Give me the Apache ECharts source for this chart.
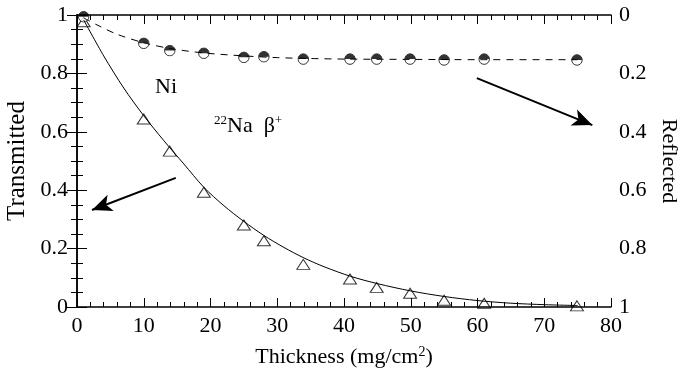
<!DOCTYPE html>
<html>
<head>
<meta charset="utf-8">
<script src="https://cdn.jsdelivr.net/npm/echarts@6/dist/echarts.min.js"></script>
<style>html,body{margin:0;padding:0;background:#fff}#c{width:685px;height:370px}</style>
</head>
<body>
<div id="c"></div>
<script>
// Measured thickness (mg/cm^2)
const thickness = [1, 10, 13.9, 19, 25, 28, 33.9, 40.9, 44.9, 49.9, 55, 61, 74.9];
// Transmitted fraction (left axis)
const transmitted = [0.977, 0.644, 0.534, 0.393, 0.281, 0.227, 0.146, 0.096, 0.067, 0.047, 0.023, 0.013, 0.004];
// Reflected fraction (right axis, inverted)
const reflected = [0.006, 0.097, 0.122, 0.131, 0.145, 0.143, 0.151, 0.151, 0.151, 0.151, 0.154, 0.151, 0.154];
// Fit curve through transmitted points
const fitX = [1, 4, 7, 10, 13, 16, 19, 22, 25, 28, 31, 34, 37, 41, 45, 50, 55, 60, 65, 70, 75];
const fitT = [0.983, 0.86, 0.75, 0.655, 0.57, 0.49, 0.41, 0.347, 0.293, 0.245, 0.204, 0.168, 0.138, 0.105, 0.080, 0.055, 0.036, 0.022, 0.013, 0.008, 0.005];
// Dashed curve through reflected points
const dashX = [1, 3, 6, 10, 14, 19, 25, 30, 35, 40, 50, 60, 75];
const dashR = [0.01, 0.034, 0.066, 0.095, 0.115, 0.13, 0.14, 0.146, 0.149, 0.151, 0.152, 0.153, 0.153];
// Tick label values
const xTicks = [0, 10, 20, 30, 40, 50, 60, 70, 80];
const yTicks = [0, 0.2, 0.4, 0.6, 0.8, 1];
// Arrow annotations [x0, y0, x1, y1] in data (left-axis) units
const arrowReflected = [59.9, 0.784, 77.2, 0.623];
const arrowTransmitted = [14.8, 0.442, 2.25, 0.332];

const zip = (a, b) => a.map((v, i) => [v, b[i]]);
const font = '"Liberation Serif", "DejaVu Serif", serif';

const circleSvg = "data:image/svg+xml;utf8," + encodeURIComponent(
  "<svg xmlns='http://www.w3.org/2000/svg' width='24' height='24'><circle cx='12' cy='12' r='10.5' fill='white' stroke='black' stroke-width='2'/><path d='M1.5,12 A10.5,10.5 0 0 1 22.5,12 Z' fill='black'/></svg>");

const chart = echarts.init(document.getElementById('c'), null, {renderer: 'canvas'});
const axisLine = {show: true, lineStyle: {color: '#000', width: 1.5}};
const tickStyle = {color: '#000', width: 1};
const fmt = v => (Math.abs(v) < 1e-9 ? '0' : String(+v.toFixed(2)));

chart.setOption({
  animation: false,
  backgroundColor: '#fff',
  grid: {left: 77, right: 74, top: 15, bottom: 63, containLabel: false, outerBoundsMode: 'none'},
  xAxis: [{
    type: 'value', min: 0, max: 80, interval: 10, position: 'bottom',
    axisLine: axisLine,
    axisTick: {show: true, inside: true, length: 9, lineStyle: tickStyle},
    minorTick: {show: true, splitNumber: 5, length: 5, lineStyle: tickStyle},
    splitLine: {show: false},
    axisLabel: {color: '#000', fontFamily: font, fontSize: 22, margin: 8,
      formatter: v => (xTicks.includes(v) ? String(v) : '')},
    name: '{a|Thickness (mg/cm}{s|2}{a|)}', nameLocation: 'middle', nameGap: 38,
    nameTextStyle: {rich: {
      a: {fontFamily: font, fontSize: 22, color: '#000'},
      s: {fontFamily: font, fontSize: 14, color: '#000', verticalAlign: 'top', padding: [0, 0, 10, 0]}
    }}
  }, {
    type: 'value', min: 0, max: 80, interval: 10, position: 'top',
    axisLine: axisLine,
    axisTick: {show: true, inside: true, length: 9, lineStyle: tickStyle},
    minorTick: {show: true, splitNumber: 5, length: 5, lineStyle: tickStyle},
    splitLine: {show: false}, axisLabel: {show: false}
  }],
  yAxis: [{
    type: 'value', min: 0, max: 1, interval: 0.2, position: 'left',
    axisLine: axisLine,
    axisTick: {show: true, inside: true, length: 10, lineStyle: tickStyle},
    minorTick: {show: true, splitNumber: 4, length: 6, lineStyle: tickStyle},
    splitLine: {show: false},
    axisLabel: {color: '#000', fontFamily: font, fontSize: 22, margin: 9,
      formatter: v => (yTicks.some(t => Math.abs(t - v) < 1e-9) ? fmt(v) : '')},
    name: 'Transmitted', nameLocation: 'middle', nameGap: 42, nameRotate: 90,
    nameTextStyle: {fontFamily: font, fontSize: 25, color: '#000'}
  }, {
    type: 'value', min: 0, max: 1, interval: 0.2, position: 'right', inverse: true,
    axisLine: axisLine,
    axisTick: {show: true, inside: true, length: 10, lineStyle: tickStyle},
    minorTick: {show: true, splitNumber: 4, length: 6, lineStyle: tickStyle},
    splitLine: {show: false},
    axisLabel: {color: '#000', fontFamily: font, fontSize: 22, margin: 8,
      formatter: v => (yTicks.some(t => Math.abs(t - v) < 1e-9) ? fmt(v) : '')},
    name: 'Reflected', nameLocation: 'middle', nameGap: 42, nameRotate: -90,
    nameTextStyle: {fontFamily: font, fontSize: 22, color: '#000'}
  }],
  series: [{
    type: 'line', xAxisIndex: 0, yAxisIndex: 0, data: zip(fitX, fitT),
    smooth: 0.3, showSymbol: false, silent: true,
    lineStyle: {color: '#000', width: 1},
    markLine: {
      silent: true, symbol: ['none', 'arrow'], symbolSize: [13, 20],
      label: {show: false},
      lineStyle: {color: '#000', width: 2, type: 'solid'},
      data: [
        [{coord: [arrowReflected[0], arrowReflected[1]]}, {coord: [arrowReflected[2], arrowReflected[3]]}],
        [{coord: [arrowTransmitted[0], arrowTransmitted[1]]}, {coord: [arrowTransmitted[2], arrowTransmitted[3]]}]
      ]
    }
  }, {
    type: 'line', xAxisIndex: 0, yAxisIndex: 1, data: zip(dashX, dashR),
    smooth: 0.3, showSymbol: false, silent: true,
    lineStyle: {color: '#000', width: 1, type: [7, 6]}
  }, {
    type: 'scatter', xAxisIndex: 0, yAxisIndex: 0, data: zip(thickness, transmitted),
    symbol: 'triangle', symbolSize: [13, 10],
    itemStyle: {color: 'rgba(255,255,255,0)', borderColor: '#000', borderWidth: 1}
  }, {
    type: 'scatter', xAxisIndex: 0, yAxisIndex: 1, data: zip(thickness, reflected),
    symbol: 'image://' + circleSvg, symbolSize: 12
  }],
  graphic: [{
    type: 'text', left: 155, top: 76,
    style: {text: 'Ni', font: '22px ' + font, fill: '#000'}
  }, {
    type: 'text', left: 214, top: 114,
    style: {
      text: '{s|22}{a|Na  β}{s|+}',
      rich: {
        a: {fontFamily: font, fontSize: 22, fill: '#000', color: '#000'},
        s: {fontFamily: font, fontSize: 13, fill: '#000', color: '#000', verticalAlign: 'top', padding: [0, 0, 11, 0]}
      }
    }
  }]
});
</script>
</body>
</html>
